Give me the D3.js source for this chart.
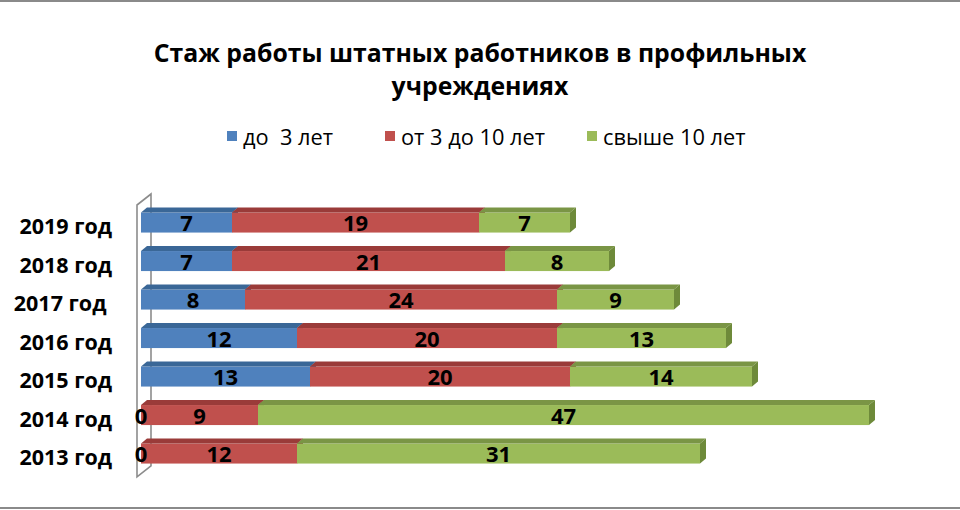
<!DOCTYPE html>
<html><head><meta charset="utf-8">
<script src="https://cdn.jsdelivr.net/npm/d3@7"></script>
<style>
html,body{margin:0;padding:0;background:#fff;}
svg{display:block;}
text{font-family:"Open Sans","Noto Sans",sans-serif;}
</style></head>
<body>
<svg id="chart" width="960" height="510"></svg>
<script>
const categories = ["2019 год", "2018 год", "2017 год ", "2016 год", "2015 год", "2014 год", "2013 год"];
const seriesNames = ["до  3 лет", "от 3 до 10 лет", "свыше 10 лет"];
const under3 = [7, 7, 8, 12, 13, 0, 0];
const from3to10 = [19, 21, 24, 20, 20, 9, 12];
const over10 = [7, 8, 9, 13, 14, 47, 31];
const titleLines = ["Стаж работы штатных работников в профильных", "учреждениях"];

const frontColors = ["#4F81BD", "#C0504D", "#9BBB59"];
const topColors = ["#3A6797", "#9A3B39", "#7A9545"];
const sideColors = ["#36608C", "#8E3533", "#6E8A3A"];

const svg = d3.select("#chart");
svg.append("rect").attr("x", -3).attr("y", 1).attr("width", 966).attr("height", 507)
  .attr("fill", "#fff").attr("stroke", "#8a8a8a").attr("stroke-width", 2);

// title
svg.append("g").selectAll("text").data(titleLines).join("text")
  .attr("x", 480).attr("y", (d, i) => 62 + i * 33)
  .attr("text-anchor", "middle").attr("font-size", 24.8).attr("font-weight", 700)
  .attr("fill", "#000").text(d => d);

// legend
const legendX = [227, 385, 587];
const lg = svg.append("g").selectAll("g").data(seriesNames).join("g")
  .attr("transform", (d, i) => `translate(${legendX[i]},0)`);
lg.append("rect").attr("x", 0).attr("y", 131).attr("width", 10).attr("height", 10)
  .attr("fill", (d, i) => frontColors[i]);
lg.append("text").attr("x", 16).attr("y", 145).attr("font-size", 21.8).attr("fill", "#000")
  .style("white-space", "pre").text(d => d);

const x = d3.scaleLinear().domain([0, 60]).range([141, 921]);
const y = d3.scaleBand().domain(categories).range([203.3, 472.8]).paddingInner(0.48).paddingOuter(0.24);
const dx = 6, dy = 5;

// back wall (edge-on)
const wx = x(0) - 4, wTop = y.range()[0] + 1.7, wBot = y.range()[1] + 4;
const wdx = 14, wdy = -11;
svg.append("path")
  .attr("d", `M${wx},${wBot}L${wx},${wTop}L${wx + wdx},${wTop + wdy}L${wx + wdx},${wBot + wdy}Z`)
  .attr("fill", "#fff").attr("stroke", "#8c8c8c").attr("stroke-width", 1.6);

const series = [under3, from3to10, over10];
const barsG = svg.append("g");
categories.forEach((cat, ci) => {
  let acc = 0;
  const yt = y(cat), yb = y(cat) + y.bandwidth();
  series.forEach((vals, si) => {
    const v = vals[ci];
    const x0 = x(acc), x1 = x(acc + v);
    acc += v;
    if (v <= 0) return;
    const g = barsG.append("g");
    g.append("rect").attr("x", x0).attr("y", yt).attr("width", x1 - x0).attr("height", yb - yt)
      .attr("fill", frontColors[si]);
    g.append("path").attr("d", `M${x0},${yt}L${x0 + dx},${yt - dy}L${x1 + dx},${yt - dy}L${x1},${yt}Z`)
      .attr("fill", topColors[si]);
    g.append("path").attr("d", `M${x1},${yt}L${x1 + dx},${yt - dy}L${x1 + dx},${yb - dy}L${x1},${yb}Z`)
      .attr("fill", sideColors[si]);
  });
});

// data labels
const labelsG = svg.append("g");
categories.forEach((cat, ci) => {
  let acc = 0;
  const yc = y(cat) + y.bandwidth() / 2;
  series.forEach((vals, si) => {
    const v = vals[ci];
    const xc = x(acc + v / 2);
    acc += v;
    labelsG.append("text").attr("x", xc).attr("y", yc + 1).attr("dy", "0.36em")
      .attr("text-anchor", "middle").attr("font-size", 22).attr("font-weight", 700)
      .attr("fill", "#000").text(v);
  });
});

// category labels
svg.append("g").selectAll("text").data(categories).join("text")
  .attr("x", 112).attr("y", d => y(d) + y.bandwidth() / 2 + 4).attr("dy", "0.36em")
  .attr("text-anchor", "end").attr("font-size", 21.5).attr("font-weight", 700)
  .attr("fill", "#000").style("white-space", "pre").text(d => d);
</script>
</body></html>
